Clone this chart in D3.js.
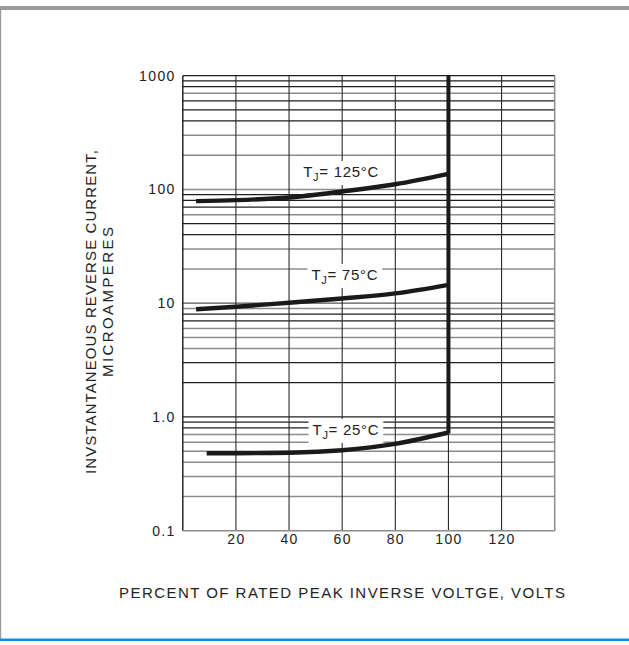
<!DOCTYPE html>
<html>
<head>
<meta charset="utf-8">
<script src="https://cdn.jsdelivr.net/npm/d3@7/dist/d3.min.js"></script>
<style>
  html, body { margin: 0; padding: 0; background: #fff; }
  svg { display: block; font-family: "Liberation Sans", Arial, sans-serif; }
</style>
</head>
<body>
<svg id="chart" width="629" height="645"></svg>
<script>
// ---- data ----
const xTickValues = [20, 40, 60, 80, 100, 120];
const yTickValues = [0.1, 1, 10, 100, 1000];
const yTickLabels = ["0.1", "1.0", "10", "100", "1000"];

const voltage125 = [5, 20, 40, 60, 80, 100];
const current125 = [79, 80.5, 85, 96, 111, 137];
const voltage75 = [5, 20, 40, 60, 80, 100];
const current75 = [8.85, 9.3, 10.1, 11.0, 12.2, 14.5];
const voltage25 = [9, 20, 40, 60, 80, 100];
const current25 = [0.48, 0.48, 0.485, 0.51, 0.58, 0.73];

const seriesNames = ["125", "75", "25"];
const breakdownPercent = 100;

const xTitle = "PERCENT OF RATED PEAK INVERSE VOLTGE, VOLTS";
const yTitle1 = "INVSTANTANEOUS REVERSE CURRENT,";
const yTitle2 = "MICROAMPERES";

// ---- layout ----
const FONT = "Liberation Sans, Arial, sans-serif";
const svg = d3.select("#chart");
const W = 629, H = 645;
const plot = { left: 182.8, right: 554.7, top: 75.7, bottom: 530.7 };

const x = d3.scaleLinear().domain([0, 140]).range([plot.left, plot.right]);
const y = d3.scaleLog().domain([0.1, 1000]).range([plot.bottom, plot.top]);

// page frame
svg.append("rect").attr("x", 0).attr("y", 0).attr("width", W).attr("height", H).attr("fill", "#fff");
svg.append("rect").attr("x", 0).attr("y", 6).attr("width", W).attr("height", 4).attr("fill", "#9a9a9a");
svg.append("rect").attr("x", 0).attr("y", 10).attr("width", 1.2).attr("height", 630).attr("fill", "#9a9a9a");
svg.append("rect").attr("x", 0).attr("y", 638.5).attr("width", W).attr("height", 2.5).attr("fill", "#1a8fd2");

const g = svg.append("g");

// horizontal grid lines (log minor ticks)
const grayTicks = new Set([700, 300, 200, 100, 60, 30, 20, 9, 6, 5, 4, 0.7, 0.6, 0.5, 0.4, 0.3, 0.2]);
const hTicks = [];
for (let dec = 0.1; dec < 1000; dec *= 10) {
  for (let k = 1; k <= 9; k++) hTicks.push(+(dec * k).toPrecision(3));
}
hTicks.push(1000);

g.selectAll("line.h").data(hTicks.filter(v => v > 0.1)).enter().append("line")
  .attr("class", "h")
  .attr("x1", plot.left).attr("x2", plot.right)
  .attr("y1", d => y(d)).attr("y2", d => y(d))
  .attr("stroke", d => grayTicks.has(d) ? "#8c8c8c" : (d === 10 ? "#555" : "#1f1f1f"))
  .attr("stroke-width", d => grayTicks.has(d) ? 1.5 : 1.2);

// vertical grid lines
g.selectAll("line.v").data(xTickValues).enter().append("line")
  .attr("class", "v")
  .attr("x1", d => x(d)).attr("x2", d => x(d))
  .attr("y1", plot.top).attr("y2", plot.bottom)
  .attr("stroke", "#2a2a2a").attr("stroke-width", 1.1);

// frame
g.append("line").attr("x1", plot.left).attr("x2", plot.left).attr("y1", plot.top).attr("y2", plot.bottom)
  .attr("stroke", "#1a1a1a").attr("stroke-width", 1.4);
g.append("line").attr("x1", plot.right).attr("x2", plot.right).attr("y1", plot.top).attr("y2", plot.bottom)
  .attr("stroke", "#8c8c8c").attr("stroke-width", 1.5);
g.append("line").attr("x1", plot.left).attr("x2", plot.right).attr("y1", plot.bottom).attr("y2", plot.bottom)
  .attr("stroke", "#8c8c8c").attr("stroke-width", 1.5);

// curve labels with white boxes
const labelVals = { "125": [59.6, 148], "75": [61, 18.4], "25": [61.4, 0.80] };
const labelG = svg.append("g");
seriesNames.forEach(name => {
  const [lx, ly] = labelVals[name];
  const t = labelG.append("text")
    .attr("x", x(lx)).attr("y", y(ly) + 7)
    .attr("text-anchor", "middle")
    .attr("font-family", FONT)
    .attr("font-size", 15).attr("fill", "#222")
    .attr("letter-spacing", 0.7);
  t.append("tspan").text("T");
  t.append("tspan").attr("dy", 4).attr("font-size", 11).text("J");
  t.append("tspan").attr("dy", -4).text("= " + name + "°C");
  const bb = t.node().getBBox();
  labelG.insert("rect", "text")
    .attr("x", bb.x - 4).attr("y", bb.y - 2)
    .attr("width", bb.width + 8).attr("height", bb.height + 4)
    .attr("fill", "#fff");
});

// curves
const line = d3.line().x(d => x(d[0])).y(d => y(d[1])).curve(d3.curveMonotoneX);
const curves = [
  d3.zip(voltage125, current125),
  d3.zip(voltage75, current75),
  d3.zip(voltage25, current25)
];
svg.append("g").selectAll("path").data(curves).enter().append("path")
  .attr("d", line)
  .attr("fill", "none").attr("stroke", "#1a1a1a").attr("stroke-width", 4.4)
  .attr("stroke-linecap", "butt");

// breakdown vertical line
svg.append("line")
  .attr("x1", x(breakdownPercent)).attr("x2", x(breakdownPercent))
  .attr("y1", y(current25[current25.length - 1]) + 1).attr("y2", y(1000))
  .attr("stroke", "#1a1a1a").attr("stroke-width", 4);

// axes
const yAxis = d3.axisLeft(y).tickValues(yTickValues)
  .tickFormat((d, i) => yTickLabels[i]).tickSize(0).tickPadding(7);
const ya = svg.append("g").attr("transform", `translate(${plot.left},0)`).call(yAxis);
ya.attr("font-size", 14).attr("font-family", FONT);
ya.select(".domain").remove();
ya.selectAll("text").attr("fill", "#222").attr("letter-spacing", 1.4);

const xAxis = d3.axisBottom(x).tickValues(xTickValues).tickSize(0).tickPadding(3);
const xa = svg.append("g").attr("transform", `translate(0,${plot.bottom})`).call(xAxis);
xa.attr("font-size", 14).attr("font-family", FONT);
xa.select(".domain").remove();
xa.selectAll("text").attr("fill", "#222").attr("letter-spacing", 1.3);

// titles
svg.append("text").attr("x", 342).attr("y", 598)
  .attr("text-anchor", "middle").attr("font-size", 15).attr("fill", "#222")
  .attr("font-family", FONT)
  .attr("textLength", 446).attr("lengthAdjust", "spacing")
  .text(xTitle);

svg.append("text").attr("transform", "translate(96,312) rotate(-90)")
  .attr("text-anchor", "middle").attr("font-size", 15).attr("fill", "#222")
  .attr("font-family", FONT)
  .attr("textLength", 324).attr("lengthAdjust", "spacing")
  .text(yTitle1);
svg.append("text").attr("transform", "translate(113,302) rotate(-90)")
  .attr("text-anchor", "middle").attr("font-size", 15).attr("fill", "#222")
  .attr("font-family", FONT)
  .attr("textLength", 150).attr("lengthAdjust", "spacing")
  .text(yTitle2);
</script>
</body>
</html>
